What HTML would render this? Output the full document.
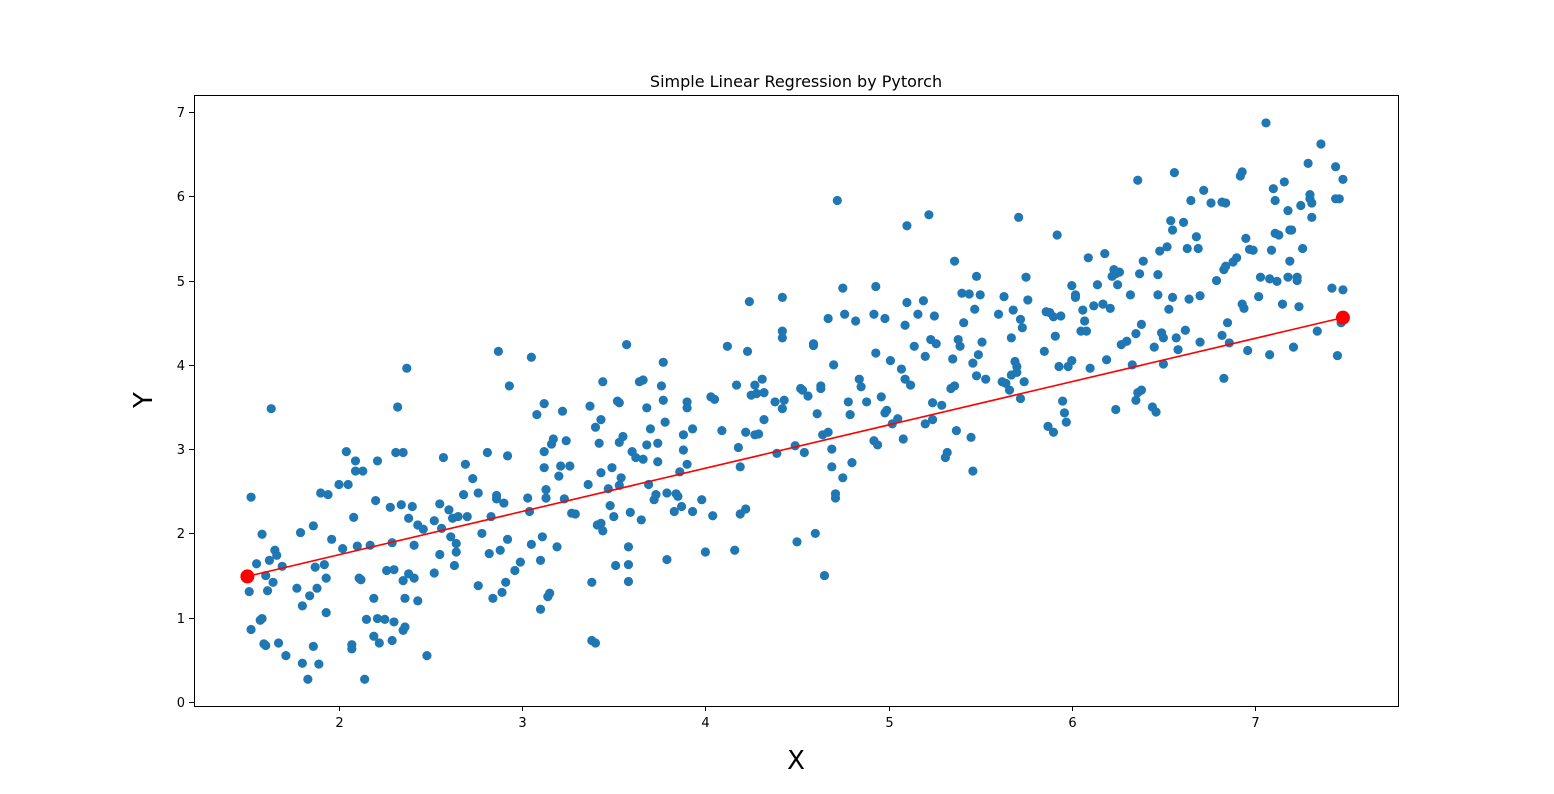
<!DOCTYPE html>
<html><head><meta charset="utf-8"><style>
html,body{margin:0;padding:0;background:#fff;}
svg{display:block;font-family:"DejaVu Sans","Liberation Sans",sans-serif;}
</style></head><body>
<svg id="chart" width="1554" height="794" viewBox="0 0 1554 794" xmlns="http://www.w3.org/2000/svg">
<rect width="1554" height="794" fill="#fff"/>
<text x="796" y="87" font-size="16" text-anchor="middle" fill="#000">Simple Linear Regression by Pytorch</text>
<g id="points"></g>
<g id="line"></g>
<rect x="194.5" y="95.5" width="1204" height="611" fill="none" stroke="#000" stroke-width="1"/>
<g id="xticks"></g>
<g id="yticks"></g>
<text x="796" y="769" font-size="26" text-anchor="middle">X</text>
<text x="0" y="0" font-size="26" text-anchor="middle" transform="translate(152,400) rotate(-90)">Y</text>
</svg>
<script>
const xTicks=[2,3,4,5,6,7];
const yTicks=[0,1,2,3,4,5,6,7];
const lineStart=[1.5,1.49];
const lineEnd=[7.48,4.56];
const points=[[1.52,2.43],[1.51,1.31],[1.52,0.86],[1.55,1.64],[1.57,0.97],[1.58,0.99],[1.58,1.99],[1.6,1.5],[1.59,0.69],[1.6,0.67],[1.61,1.32],[1.62,1.68],[1.63,3.48],[1.64,1.42],[1.65,1.8],[1.66,1.74],[1.67,0.7],[1.69,1.61],[1.71,0.55],[1.77,1.35],[1.79,2.01],[1.8,1.14],[1.8,0.46],[1.83,0.27],[1.84,1.26],[1.86,2.09],[1.86,0.66],[1.87,1.6],[1.88,1.35],[1.89,0.45],[1.9,2.48],[1.92,1.63],[1.93,1.06],[1.93,1.47],[1.94,2.46],[1.96,1.93],[2.0,2.58],[2.02,1.82],[2.04,2.97],[2.05,2.58],[2.07,0.68],[2.07,0.63],[2.08,2.19],[2.09,2.86],[2.09,2.74],[2.1,1.85],[2.11,1.47],[2.12,1.45],[2.13,2.74],[2.14,0.27],[2.15,0.98],[2.17,1.86],[2.19,1.23],[2.19,0.78],[2.2,2.39],[2.21,0.99],[2.21,2.86],[2.22,0.7],[2.25,0.98],[2.26,1.56],[2.28,2.31],[2.29,0.73],[2.29,1.89],[2.3,1.57],[2.3,0.95],[2.31,2.96],[2.32,3.5],[2.34,2.34],[2.35,2.96],[2.35,0.85],[2.35,1.44],[2.36,0.89],[2.36,1.23],[2.37,3.96],[2.38,1.52],[2.38,2.18],[2.4,2.32],[2.41,1.86],[2.41,1.47],[2.43,2.1],[2.43,1.2],[2.46,2.05],[2.48,0.55],[2.52,1.53],[2.52,2.15],
[2.55,2.35],[2.55,1.75],[2.56,2.06],[2.57,2.9],[2.6,2.28],[2.61,1.96],[2.62,2.18],[2.63,1.62],[2.64,1.88],[2.64,1.78],[2.65,2.2],[2.68,2.46],[2.69,2.82],[2.7,2.2],[2.73,2.65],[2.76,2.48],[2.76,1.38],[2.78,2.0],[2.81,2.96],[2.82,1.76],[2.83,2.2],[2.84,1.23],[2.86,2.41],[2.86,2.45],[2.87,4.16],[2.88,1.8],[2.89,1.3],[2.9,2.36],[2.91,1.42],[2.92,2.92],[2.92,1.93],[2.93,3.75],[2.96,1.56],[2.99,1.66],[3.03,2.42],[3.04,2.26],[3.05,4.09],[3.05,1.87],[3.08,3.41],[3.1,1.68],[3.11,1.96],[3.12,3.54],[3.12,2.78],[3.12,2.97],[3.13,2.52],[3.13,2.42],[3.14,1.25],[3.15,1.29],[3.16,3.06],[3.17,3.12],[3.19,1.84],[3.2,2.68],[3.21,2.8],[3.22,3.45],[3.23,2.41],[3.24,3.1],[3.26,2.8],[3.27,2.24],[3.29,2.23],[3.1,1.1],[3.36,2.58],[3.37,3.51],[3.38,1.42],[3.38,0.73],[3.4,0.7],[3.4,3.26],[3.41,2.1],[3.42,3.07],[3.43,2.72],[3.43,3.35],[3.43,2.12],[3.44,2.03],[3.44,3.8],[3.47,2.53],[3.48,2.33],[3.49,2.78],[3.5,2.2],
[3.51,1.62],[3.52,3.57],[3.53,3.55],[3.53,3.08],[3.53,2.57],[3.54,2.66],[3.55,3.15],[3.57,4.24],[3.58,1.84],[3.58,1.63],[3.58,1.43],[3.59,2.25],[3.6,2.97],[3.62,2.9],[3.64,3.8],[3.65,2.16],[3.66,3.82],[3.66,2.88],[3.68,3.49],[3.68,3.05],[3.69,2.58],[3.7,3.24],[3.72,2.4],[3.73,2.46],[3.74,2.85],[3.74,3.07],[3.76,3.75],[3.77,4.03],[3.77,3.58],[3.78,3.32],[3.79,2.48],[3.79,1.69],[3.83,2.26],[3.84,2.47],[3.85,2.44],[3.86,2.73],[3.87,2.32],[3.88,3.17],[3.88,2.99],[3.9,3.56],[3.9,3.49],[3.9,2.82],[3.93,2.26],[3.93,3.24],[3.98,2.4],[4.0,1.78],[4.03,3.62],[4.04,2.21],[4.05,3.59],[4.09,3.22],[4.12,4.22],[4.16,1.8],[4.17,3.76],[4.18,3.02],[4.19,2.79],[4.19,2.23],[4.22,2.29],[4.22,3.2],[4.23,4.16],[4.24,4.75],[4.25,3.64],[4.27,3.17],[4.27,3.76],[4.28,3.66],[4.29,3.18],[4.31,3.83],[4.32,3.67],[4.32,3.35],[4.38,3.56],[4.39,2.95],[4.42,4.8],[4.42,4.32],[4.42,4.4],[4.42,3.48],[4.43,3.58],[4.49,3.04],[4.5,1.9],
[4.52,3.72],[4.53,3.7],[4.54,2.96],[4.56,3.63],[4.59,4.25],[4.59,4.23],[4.6,2.0],[4.61,3.42],[4.63,3.72],[4.63,3.75],[4.64,3.17],[4.65,1.5],[4.67,4.55],[4.67,3.2],[4.69,2.79],[4.69,3.0],[4.7,4.0],[4.71,2.47],[4.71,2.42],[4.72,5.95],[4.75,2.66],[4.75,4.91],[4.76,4.6],[4.78,3.56],[4.79,3.41],[4.8,2.84],[4.82,4.52],[4.84,3.83],[4.85,3.74],[4.88,3.56],[4.92,4.6],[4.92,3.1],[4.93,4.93],[4.93,4.14],[4.94,3.05],[4.96,3.62],[4.98,4.55],[4.98,3.43],[4.99,3.46],[5.01,4.05],[5.02,3.3],[5.05,3.36],[5.07,3.95],[5.08,3.12],[5.09,4.47],[5.09,3.83],[5.1,5.65],[5.1,4.74],[5.12,3.76],[5.14,4.22],[5.16,4.6],[5.19,4.76],[5.2,3.3],[5.2,4.1],[5.22,5.78],[5.23,4.3],[5.24,3.55],[5.24,3.35],[5.25,4.58],[5.26,4.25],[5.29,3.52],[5.31,2.9],[5.32,2.96],[5.34,3.72],[5.35,4.07],[5.36,5.23],[5.36,3.75],[5.37,3.22],[5.38,4.3],[5.39,4.22],[5.4,4.85],[5.41,4.5],[5.44,4.84],[5.45,3.14],[5.46,2.74],[5.46,4.02],[5.47,4.66],[5.48,3.87],[5.48,5.05],[5.49,4.12],[5.5,4.83],[5.51,4.27],
[5.53,3.83],[5.6,4.6],[5.62,3.8],[5.63,4.81],[5.64,3.78],[5.66,3.7],[5.67,4.32],[5.67,3.88],[5.68,4.65],[5.69,4.04],[5.7,3.98],[5.7,3.91],[5.71,5.75],[5.72,4.54],[5.72,3.6],[5.73,4.44],[5.74,3.8],[5.75,5.04],[5.76,4.77],[5.85,4.16],[5.86,4.63],[5.87,3.27],[5.88,4.62],[5.9,3.2],[5.9,4.57],[5.91,4.34],[5.92,5.54],[5.93,3.98],[5.94,4.58],[5.95,3.57],[5.96,3.43],[5.97,3.32],[5.98,3.98],[6.0,4.05],[6.0,4.94],[6.02,4.83],[6.02,4.8],[6.05,4.4],[6.06,4.65],[6.07,4.52],[6.08,4.4],[6.09,5.27],[6.1,3.96],[6.12,4.7],[6.14,4.95],[6.17,4.72],[6.18,5.32],[6.19,4.06],[6.21,4.67],[6.22,5.05],[6.23,5.13],[6.24,3.47],[6.24,5.08],[6.25,4.95],[6.26,5.1],[6.27,4.24],[6.3,4.28],[6.32,4.83],[6.33,4.0],[6.35,3.58],[6.35,4.37],[6.36,6.19],[6.36,3.67],[6.37,5.08],[6.38,4.48],[6.38,3.7],[6.39,5.23],[6.44,3.5],[6.45,4.21],[6.46,3.44],[6.47,5.07],[6.47,4.83],[6.48,5.35],[6.49,4.38],[6.5,4.32],[6.5,4.01],
[6.52,5.4],[6.53,4.66],[6.54,5.71],[6.55,5.6],[6.55,4.8],[6.56,6.28],[6.57,4.32],[6.58,4.18],[6.61,5.69],[6.62,4.41],[6.63,5.38],[6.64,4.78],[6.65,5.95],[6.68,5.52],[6.69,5.38],[6.7,4.27],[6.7,4.82],[6.72,6.07],[6.76,5.92],[6.79,5.0],[6.82,5.93],[6.82,4.35],[6.83,3.84],[6.83,5.13],[6.84,5.92],[6.84,5.17],[6.85,4.5],[6.86,4.26],[6.88,5.22],[6.9,5.27],[6.92,6.24],[6.93,6.29],[6.93,4.72],[6.94,4.67],[6.95,5.5],[6.96,4.17],[6.97,5.37],[6.99,5.36],[7.02,4.81],[7.03,5.04],[7.06,6.87],[7.08,4.12],[7.08,5.02],[7.09,5.36],[7.1,6.09],[7.11,5.56],[7.11,5.95],[7.12,4.99],[7.13,5.54],[7.15,4.72],[7.16,6.17],[7.18,5.04],[7.18,5.83],[7.19,5.6],[7.19,5.23],[7.2,5.6],[7.21,4.21],[7.23,5.04],[7.23,5.0],[7.24,4.69],[7.25,5.89],[7.26,5.38],[7.29,6.39],[7.3,5.97],[7.3,6.02],[7.31,5.92],[7.31,5.75],[7.34,4.4],[7.36,6.62],[7.42,4.91],[7.44,6.35],[7.44,5.97],[7.45,4.11],[7.46,5.97],[7.47,4.5],[7.48,4.89],[7.48,6.2]];

const NS='http://www.w3.org/2000/svg';
function sx(v){return 339+(v-2)*183.2;}
function sy(v){return 702-v*84.29;}
function mk(tag,attrs,parent){const e=document.createElementNS(NS,tag);for(const k in attrs)e.setAttribute(k,attrs[k]);parent.appendChild(e);return e;}
const pg=document.getElementById('points');
points.forEach(p=>{
  const c=mk('circle',{cx:sx(p[0]),cy:sy(p[1]),r:4.6,fill:'#1f77b4'},pg);
  
  
});
const lg=document.getElementById('line');
const ln=mk('line',{x1:sx(lineStart[0]),y1:sy(lineStart[1]),x2:sx(lineEnd[0]),y2:sy(lineEnd[1]),stroke:'#ff0000','stroke-width':1.6},lg);


[lineStart,lineEnd].forEach(p=>{
  const c=mk('circle',{cx:sx(p[0]),cy:sy(p[1]),r:7,fill:'#ff0000'},lg);
  
  
});
const xg=document.getElementById('xticks');
xTicks.forEach(t=>{
  const x=Math.round(sx(t))+0.5;
  const l=mk('line',{x1:x,y1:706,x2:x,y2:711,stroke:'#000','stroke-width':1},xg);
  
  
  const tx=mk('text',{x:x,y:727,'font-size':13,'text-anchor':'middle'},xg);
  tx.textContent=String(t);
  
  
});
const yg=document.getElementById('yticks');
yTicks.forEach(t=>{
  const y=Math.round(sy(t))+0.5;
  const l=mk('line',{x1:189,y1:y,x2:194,y2:y,stroke:'#000','stroke-width':1},yg);
  
  
  const tx=mk('text',{x:185,y:y+4.5,'font-size':13,'text-anchor':'end'},yg);
  tx.textContent=String(t);
  
  
});
</script>
</body></html>
